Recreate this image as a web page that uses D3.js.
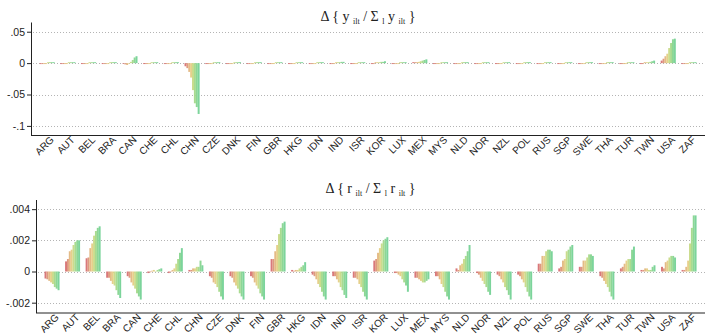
<!DOCTYPE html>
<html lang="en">
<head>
    <meta charset="UTF-8">
    <title>Share changes by country</title>
    <style>
        body {
            margin: 0;
            padding: 0;
            background: #fff;
        }
        svg text {
            font-family: "Liberation Sans", Arial, sans-serif;
        }
        .title text {
            font-family: "Liberation Serif", "Times New Roman", serif;
        }
    </style>
</head>
<body>
    <div id="chart"></div>
    <script src="https://d3js.org/d3.v7.min.js"></script>
    <script>
        // Countries on the x axis (same for both panels)
        const countries = ['ARG', 'AUT', 'BEL', 'BRA', 'CAN', 'CHE', 'CHL', 'CHN', 'CZE', 'DNK',
            'FIN', 'GBR', 'HKG', 'IDN', 'IND', 'ISR', 'KOR', 'LUX', 'MEX', 'MYS',
            'NLD', 'NOR', 'NZL', 'POL', 'RUS', 'SGP', 'SWE', 'THA', 'TUR', 'TWN', 'USA', 'ZAF'];

        // 8 periods per country, coloured red -> yellow -> green
        const periods = [1, 2, 3, 4, 5, 6, 7, 8];
        const periodColors = ['#d9787b', '#de9a80', '#e4bb87', '#e6d08b', '#cbdc8d', '#a9db90', '#8dd795', '#7cd49b'];

        // Top panel: change in output share
        const yShare = [
            [-0.0015, -0.0015, -0.0015, -0.0015, 0.0015, 0.0015, 0.0015, 0.0015], // ARG
            [-0.0015, -0.0015, -0.0015, -0.0015, 0.0015, 0.0015, 0.0015, 0.0015], // AUT
            [-0.0015, -0.0015, -0.0015, -0.0015, 0.0015, 0.0015, 0.0015, 0.0015], // BEL
            [-0.0015, -0.0015, -0.0015, -0.0015, 0.0015, 0.0015, 0.0015, 0.0015], // BRA
            [-0.001, -0.002, -0.003, -0.001, 0.002, 0.005, 0.009, 0.011],          // CAN
            [-0.0015, -0.0015, -0.0015, -0.0015, 0.0015, 0.0015, 0.0015, 0.0015], // CHE
            [-0.0015, -0.0015, -0.0015, -0.0015, 0.0015, 0.0015, 0.0015, 0.0015], // CHL
            [-0.005, -0.008, -0.014, -0.023, -0.043, -0.064, -0.070, -0.081],     // CHN
            [-0.0015, -0.0015, -0.0015, -0.0015, 0.0015, 0.0015, 0.0015, 0.0015], // CZE
            [-0.0015, -0.0015, -0.0015, -0.0015, 0.0015, 0.0015, 0.0015, 0.0015], // DNK
            [-0.0015, -0.0015, -0.0015, -0.0015, 0.0015, 0.0015, 0.0015, 0.0015], // FIN
            [-0.0015, -0.0015, -0.0015, -0.0015, 0.0015, 0.0015, 0.0015, 0.0015], // GBR
            [-0.0015, -0.0015, -0.0015, -0.0015, 0.0015, 0.0015, 0.0015, 0.0015], // HKG
            [-0.0015, -0.0015, -0.0015, -0.0015, 0.0015, 0.0015, 0.0015, 0.0015], // IDN
            [-0.0015, -0.0015, -0.0015, 0.0015, 0.0015, 0.0015, 0.002, 0.002],    // IND
            [-0.0015, -0.0015, -0.0015, -0.0015, 0.0015, 0.0015, 0.0015, 0.0015], // ISR
            [-0.0015, -0.0015, 0.0015, 0.0015, 0.0015, 0.002, 0.002, 0.003],      // KOR
            [-0.0015, -0.0015, -0.0015, -0.0015, 0.0015, 0.0015, 0.0015, 0.0015], // LUX
            [0.0015, 0.0015, 0.0015, 0.002, 0.003, 0.004, 0.005, 0.006],          // MEX
            [-0.0015, -0.0015, -0.0015, -0.0015, 0.0015, 0.0015, 0.0015, 0.0015], // MYS
            [-0.0015, -0.0015, -0.0015, -0.0015, 0.0015, 0.0015, 0.0015, 0.0015], // NLD
            [-0.0015, -0.0015, -0.0015, -0.0015, 0.0015, 0.0015, 0.0015, 0.0015], // NOR
            [-0.0015, -0.0015, -0.0015, -0.0015, 0.0015, 0.0015, 0.0015, 0.0015], // NZL
            [-0.0015, -0.0015, -0.0015, -0.0015, 0.0015, 0.0015, 0.0015, 0.0015], // POL
            [-0.0015, -0.0015, -0.0015, -0.0015, 0.0015, 0.0015, 0.0015, 0.0015], // RUS
            [-0.0015, -0.0015, -0.0015, -0.0015, 0.0015, 0.0015, 0.0015, 0.0015], // SGP
            [-0.0015, -0.0015, -0.0015, -0.0015, 0.0015, 0.0015, 0.0015, 0.0015], // SWE
            [-0.0015, -0.0015, -0.0015, -0.0015, 0.0015, 0.0015, 0.0015, 0.0015], // THA
            [-0.0015, -0.0015, -0.0015, -0.0015, 0.0015, 0.0015, 0.0015, 0.0015], // TUR
            [-0.0015, -0.0015, 0.0015, 0.0015, 0.0015, 0.002, 0.003, 0.004],      // TWN
            [0.004, 0.007, 0.011, 0.015, 0.024, 0.032, 0.038, 0.039],             // USA
            [-0.0015, -0.0015, -0.0015, -0.0015, 0.0015, 0.0015, 0.0015, 0.0015]  // ZAF
        ];

        // Bottom panel: change in r share
        const rShare = [
            [-0.00045, -0.0005, -0.0006, -0.0007, -0.0008, -0.001, -0.0011, -0.0012], // ARG
            [0.00065, 0.0008, 0.0013, 0.0014, 0.0017, 0.0019, 0.002, 0.002],           // AUT
            [0.00085, 0.0009, 0.0015, 0.0018, 0.0023, 0.0026, 0.0028, 0.0029],         // BEL
            [-0.0004, -0.0004, -0.0006, -0.0008, -0.0009, -0.0012, -0.0015, -0.0017],  // BRA
            [-0.0003, -0.0004, -0.0007, -0.0009, -0.0011, -0.0014, -0.0016, -0.0018],  // CAN
            [-0.0001, -0.00005, 0.00005, 0.0001, 0.00003, 0.0001, 0.00015, 0.0002],    // CHE
            [-0.0001, 0.00003, 0.0001, 0.0002, 0.0005, 0.0008, 0.0012, 0.0015],        // CHL
            [0.0001, 0.0001, 0.0002, 0.0002, 0.0003, 0.0003, 0.0007, 0.0004],          // CHN
            [-0.0003, -0.0004, -0.0007, -0.0008, -0.001, -0.0013, -0.0016, -0.0018],   // CZE
            [-0.0003, -0.0004, -0.0007, -0.0009, -0.0011, -0.0014, -0.0016, -0.0018],  // DNK
            [-0.0003, -0.0004, -0.0007, -0.0009, -0.0011, -0.0014, -0.0016, -0.0018],  // FIN
            [0.0008, 0.0008, 0.0013, 0.0017, 0.0024, 0.0028, 0.0031, 0.0032],          // GBR
            [0.0001, 0.00005, 0.0001, 0.0001, 0.0002, 0.0003, 0.0004, 0.0006],         // HKG
            [-0.0002, -0.0003, -0.0005, -0.0008, -0.001, -0.0013, -0.0016, -0.0018],   // IDN
            [-0.0003, -0.0003, -0.0005, -0.0007, -0.001, -0.0012, -0.0015, -0.0017],   // IND
            [-0.0004, -0.0004, -0.0005, -0.0008, -0.001, -0.0013, -0.0016, -0.0018],   // ISR
            [0.0007, 0.0008, 0.0012, 0.0015, 0.0018, 0.002, 0.0021, 0.0022],           // KOR
            [-0.0001, -0.0001, -0.0002, -0.0003, -0.0005, -0.0007, -0.0009, -0.0013],  // LUX
            [-0.0004, -0.0004, -0.0005, -0.0006, -0.0007, -0.0007, -0.0006, -0.0005],  // MEX
            [-0.0003, -0.0003, -0.0005, -0.0008, -0.001, -0.0013, -0.0016, -0.0018],   // MYS
            [0.0002, 0.0001, 0.0004, 0.0005, 0.0008, 0.001, 0.0013, 0.0017],           // NLD
            [-0.0001, -0.0002, -0.0004, -0.0006, -0.0008, -0.001, -0.0013, -0.0015],   // NOR
            [-0.0002, -0.0003, -0.0005, -0.0007, -0.001, -0.0012, -0.0015, -0.0018],   // NZL
            [-0.0002, -0.0003, -0.0005, -0.0007, -0.001, -0.0013, -0.0016, -0.0018],   // POL
            [0.0005, 0.0005, 0.001, 0.001, 0.0013, 0.0014, 0.0014, 0.0013],            // RUS
            [0.0002, 0.0003, 0.0007, 0.0008, 0.0013, 0.0014, 0.0016, 0.0017],          // SGP
            [0.0003, 0.0003, 0.0007, 0.0007, 0.0009, 0.0011, 0.0011, 0.001],           // SWE
            [-0.0003, -0.0004, -0.0006, -0.0008, -0.001, -0.0013, -0.0016, -0.0018],   // THA
            [0.0002, 0.0003, 0.0005, 0.0007, 0.0008, 0.0008, 0.0014, 0.0016],          // TUR
            [0.0001, 0.0001, 0.0002, 0.0002, 0.0001, 0.0001, 0.0003, 0.0004],          // TWN
            [0.0003, 0.0002, 0.0006, 0.0007, 0.0009, 0.001, 0.001, 0.0009],            // USA
            [0.0001, 0.0001, 0.0003, 0.0007, 0.0018, 0.0028, 0.0036, 0.0036]           // ZAF
        ];

        // Tick values and labels
        const yTicksTop = [0.05, 0, -0.05, -0.1];
        const yTickLabelsTop = ['.05', '0', '-.05', '-.1'];
        const yTicksBottom = [0.004, 0.002, 0, -0.002];
        const yTickLabelsBottom = ['.004', '.002', '0', '-.002'];

        const width = 705, height = 334;

        const svg = d3.select('#chart')
            .append('svg')
            .attr('width', width)
            .attr('height', height);

        function drawPanel(opts) {
            const g = svg.append('g');

            const x = d3.scaleBand()
                .domain(countries)
                .range([opts.left, width])
                .paddingInner(0.275)
                .paddingOuter(0.415);

            const xInner = d3.scaleBand()
                .domain(periods)
                .range([0, x.bandwidth()]);

            const y = d3.scaleLinear()
                .domain(opts.domain)
                .range([opts.bottom, opts.top]);

            // dotted grid lines
            g.selectAll('.grid')
                .data(opts.ticks)
                .join('line')
                .attr('class', 'grid')
                .attr('x1', opts.left + 2)
                .attr('x2', width)
                .attr('y1', d => Math.round(y(d)) + 0.5)
                .attr('y2', d => Math.round(y(d)) + 0.5)
                .attr('stroke', '#b4b4b4')
                .attr('stroke-width', 1)
                .attr('stroke-dasharray', '1,2');

            // bars
            const groups = g.selectAll('.country')
                .data(opts.values.map((vals, i) => ({ country: countries[i], vals })))
                .join('g')
                .attr('class', 'country')
                .attr('transform', d => `translate(${x(d.country)},0)`);

            groups.selectAll('rect')
                .data(d => d.vals.map((v, j) => ({ period: periods[j], v })))
                .join('rect')
                .attr('x', d => xInner(d.period))
                .attr('width', xInner.bandwidth() + 0.1)
                .attr('y', d => y(Math.max(0, d.v)))
                .attr('height', d => Math.abs(y(d.v) - y(0)))
                .attr('fill', (d, j) => periodColors[j]);

            // y axis
            const yAxis = g.append('g')
                .attr('transform', `translate(${opts.left},0)`)
                .call(d3.axisLeft(y)
                    .tickValues(opts.ticks)
                    .tickFormat((d, i) => opts.tickLabels[i])
                    .tickSize(4)
                    .tickSizeOuter(0));
            yAxis.select('.domain').attr('stroke', '#222');
            yAxis.selectAll('.tick line').attr('stroke', '#222');
            yAxis.selectAll('.tick text')
                .attr('fill', '#222')
                .attr('font-size', 10.5)
                .attr('x', -6);

            // x axis
            const xAxis = g.append('g')
                .attr('transform', `translate(0,${opts.bottom})`)
                .call(d3.axisBottom(x).tickSize(0).tickSizeOuter(0));
            xAxis.select('.domain')
                .attr('stroke', '#222')
                .attr('d', `M${opts.left},0.5H${width}`);
            xAxis.selectAll('.tick text')
                .attr('fill', '#222')
                .attr('font-size', 10)
                .attr('text-anchor', 'end')
                .attr('y', 0)
                .attr('dy', '0.35em')
                .attr('transform', 'translate(5,3) rotate(-45)');

            // title, drawn at double size and scaled down
            const title = g.append('g')
                .attr('class', 'title')
                .attr('transform', `translate(${(opts.left + width) / 2},${opts.titleY}) scale(0.5)`);
            const t = title.append('text')
                .attr('text-anchor', 'middle')
                .attr('font-size', 28)
                .attr('fill', '#222');
            const sub = s => t.append('tspan').attr('font-size', 16).attr('dy', 6).text(s);
            const base = s => t.append('tspan').attr('dy', -6).text(s);
            t.append('tspan').text('\u0394 { ' + opts.sym + ' ');
            sub('ilt');
            base(' / \u03a3 ');
            sub('l');
            base(' ' + opts.sym + ' ');
            sub('ilt');
            base(' }');
        }

        drawPanel({
            values: yShare,
            left: 31,
            top: 22,
            bottom: 135,
            domain: [-0.1145, 0.0655],
            ticks: yTicksTop,
            tickLabels: yTickLabelsTop,
            titleY: 21,
            sym: 'y'
        });

        drawPanel({
            values: rShare,
            left: 36,
            top: 199.5,
            bottom: 312.5,
            domain: [-0.00263, 0.00462],
            ticks: yTicksBottom,
            tickLabels: yTickLabelsBottom,
            titleY: 193,
            sym: 'r'
        });
    </script>
</body>
</html>
